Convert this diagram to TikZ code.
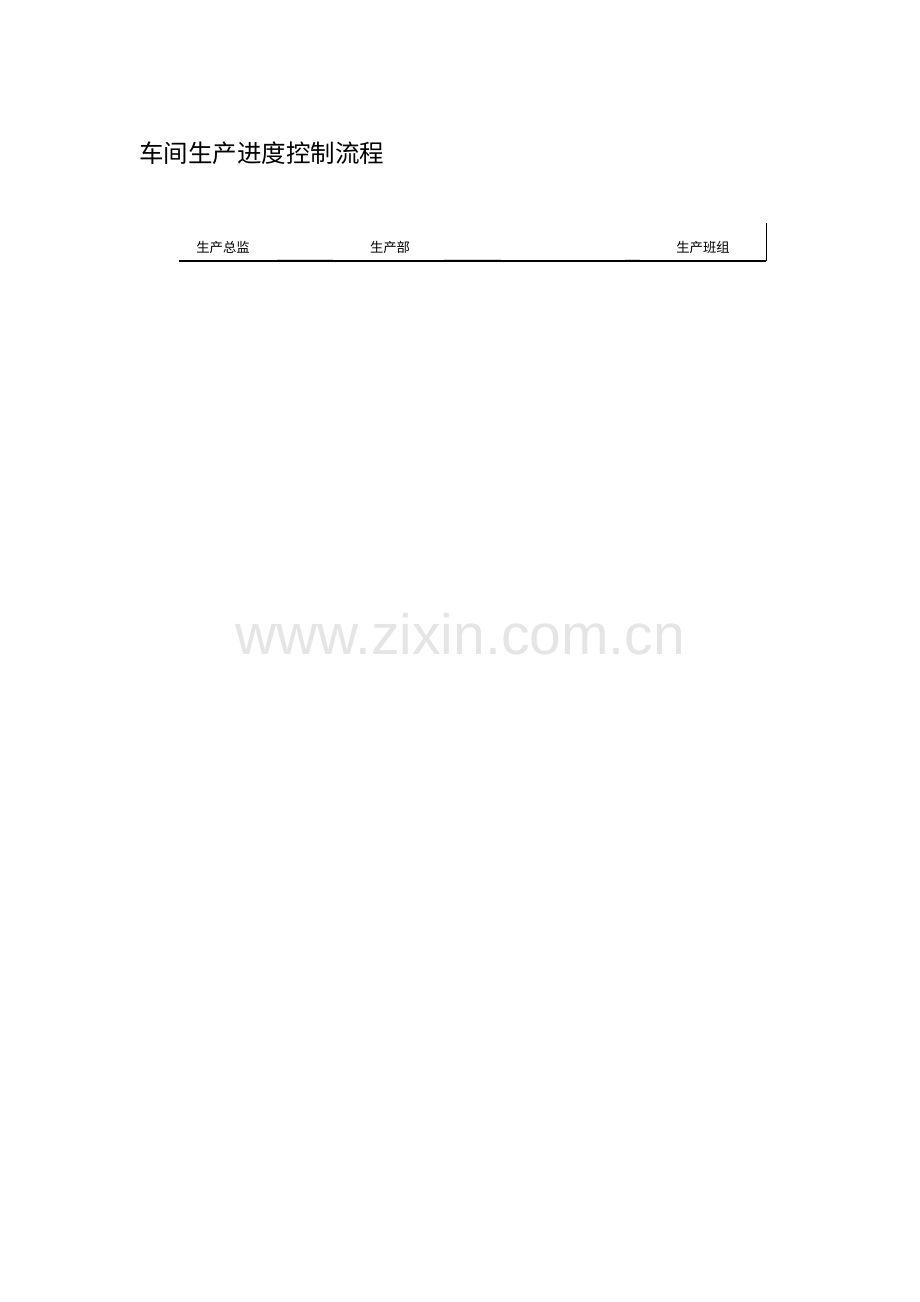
\documentclass[tikz,border=0pt]{standalone}
\usepackage{fontspec}
\newfontfamily\cjk{Noto Sans CJK SC}
\newfontfamily\wmfont{Liberation Sans}
\begin{document}
\begin{tikzpicture}[x=1pt,y=-1pt,
  hdr/.style={font=\cjk\fontsize{13.3}{15}\selectfont, inner sep=0pt},
  faint/.style={draw=black!18, line width=0.7pt}]
\useasboundingbox[fill=white] (0,0) rectangle (920,1302);
\node[font=\cjk\fontsize{24.5}{27}\selectfont, anchor=west, inner sep=0pt] (title) at (139,153) {车间生产进度控制流程};
\node[hdr] (h1) at (223,247) {生产总监};
\node[hdr] (h2) at (390,247) {生产部};
\node[hdr] (h3) at (703,247) {生产班组};
\coordinate (la) at (179,261);
\coordinate (lb) at (766,261);
\coordinate (vt) at (766,223);
\draw[faint] (277,259.7) -- (333,259.7);
\draw[faint] (444,259.7) -- (501,259.7);
\draw[faint] (625,259.7) -- (640,259.7);
\draw[line width=1.1pt] (la) -- (lb);
\draw[line width=0.9pt] (vt) -- (lb);
\node[font=\wmfont\fontsize{57}{60}\selectfont, text=black!10, inner sep=0pt] (wm) at (460,634) {www.zixin.com.cn};
\end{tikzpicture}
\end{document}
